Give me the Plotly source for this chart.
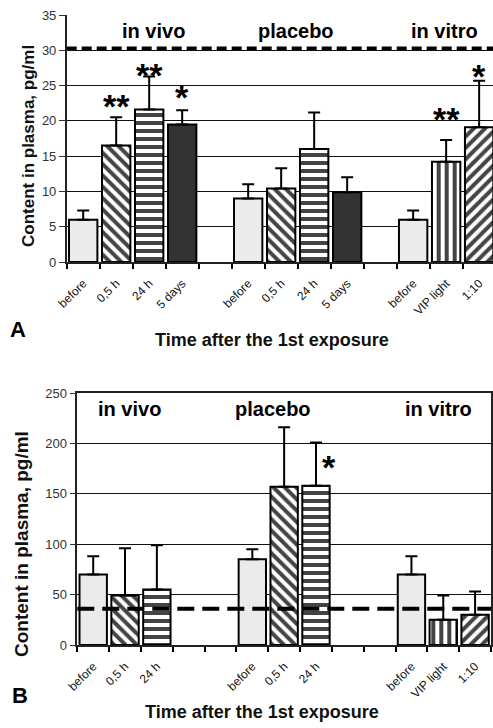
import plotly.graph_objects as go

W, H = 493, 728
FONT = "Liberation Sans, Arial, sans-serif"

# ---------------- data ----------------
labels_A = ["before", "0,5 h", "24 h", "5 days", "",
            "before", "0,5 h", "24 h", "5 days", "",
            "before", "VIP light", "1:10"]
values_A = [6.0, 16.5, 21.6, 19.5, None,
            9.0, 10.4, 16.0, 9.9, None,
            6.0, 14.2, 19.1]
errors_A = [1.3, 4.0, 4.7, 2.0, None,
            2.0, 2.9, 5.2, 2.1, None,
            1.3, 3.1, 6.6]
kinds_A = ["before", "h05", "h24", "d5", None,
           "before", "h05", "h24", "d5", None,
           "before", "vip", "r110"]
norm_A = 30.3
stars_A = [(1, "**", 23.4), (2, "**", 27.8), (3, "*", 24.6),
           (11, "**", 21.5), (12, "*", 27.6)]

labels_B = ["before", "0,5 h", "24 h", "", "",
            "before", "0,5 h", "24 h", "", "",
            "before", "VIP light", "1:10"]
values_B = [70, 49, 55, None, None,
            85, 157, 158, None, None,
            70, 25, 30]
errors_B = [18, 47, 44, None, None,
            10, 59, 43, None, None,
            18, 24, 23]
kinds_B = ["before", "h05", "h24", None, None,
           "before", "h05", "h24", None, None,
           "before", "vip", "r110"]
norm_B = 36
stars_B = [(7, "*", 186)]

groups = ["in vivo", "placebo", "in vitro"]

# ---------------- styles ----------------
STYLE = {
    "before": dict(color="#ebebeb", shape=""),
    "h05": dict(color="white", shape="\\"),
    "h24": dict(color="white", shape="-"),
    "d5": dict(color="#333333", shape=""),
    "vip": dict(color="white", shape="|"),
    "r110": dict(color="white", shape="/"),
    None: dict(color="white", shape=""),
}


def px_x(p):
    return p / W


def px_y(p):
    return 1 - p / H


fig = go.Figure()


def add_panel(labels, values, errors, kinds, xa, ya, size):
    keys = [f"{xa}{i}" for i in range(len(labels))]
    fig.add_trace(go.Bar(
        x=keys, y=values,
        xaxis=xa, yaxis=ya,
        width=0.86,
        marker=dict(
            color=[STYLE[k]["color"] for k in kinds],
            line=dict(color="black", width=2),
            pattern=dict(shape=[STYLE[k]["shape"] for k in kinds],
                         fgcolor="black", bgcolor="white", fgopacity=1,
                         size=size, solidity=0.5),
        ),
        error_y=dict(type="data", symmetric=False,
                     array=errors, arrayminus=[0] * len(errors),
                     color="black", thickness=2, width=6),
        showlegend=False,
    ))
    return keys


keys_A = add_panel(labels_A, values_A, errors_A, kinds_A, "x", "y", 8)
keys_B = add_panel(labels_B, values_B, errors_B, kinds_B, "x2", "y2", 8)

xcommon = dict(type="category", tickson="boundaries", ticks="outside",
               ticklen=5, tickcolor="black", tickwidth=1.5,
               showline=True, linecolor="#222", linewidth=1.5,
               tickangle=-45, tickfont=dict(family=FONT, size=12, color="#111"),
               ticklabelstandoff=8,
               showgrid=False, zeroline=False, tickmode="array",
               automargin=False)
ycommon = dict(showgrid=True, gridcolor="#111", gridwidth=1,
               showline=True, linecolor="#222", linewidth=1.5, mirror=True,
               ticks="outside", ticklen=6, tickcolor="#333",
               tickfont=dict(family=FONT, size=13, color="#333"),
               zeroline=False, automargin=False)

fig.update_layout(
    width=W, height=H,
    margin=dict(l=0, r=0, t=0, b=0, autoexpand=False),
    paper_bgcolor="white", plot_bgcolor="white",
    bargap=0.14,
    xaxis=dict(xcommon, domain=[px_x(66.7), 1.0], anchor="y",
               tickvals=keys_A, ticktext=labels_A,
               range=[-0.5, 12.42], mirror=False),
    yaxis=dict(ycommon, domain=[px_y(262), px_y(15)], anchor="x",
               range=[0, 35], dtick=5),
    xaxis2=dict(xcommon, domain=[px_x(77.3), px_x(491)], anchor="y2",
                tickvals=keys_B, ticktext=labels_B,
                range=[-0.5, 12.5], mirror=True),
    yaxis2=dict(ycommon, domain=[px_y(645), px_y(393)], anchor="x2",
                range=[0, 250], dtick=50),
)

# normal-level dashed lines
fig.add_shape(type="line", xref="x domain", yref="y", x0=0, x1=1,
              y0=norm_A, y1=norm_A,
              line=dict(color="black", width=3.5, dash="10px,5px"))
fig.add_shape(type="line", xref="x2 domain", yref="y2", x0=0, x1=1,
              y0=norm_B, y1=norm_B,
              line=dict(color="black", width=4, dash="17px,8px"))

ann = []
C = dict(xanchor="center", yanchor="middle", showarrow=False)
# significance stars
for idx, txt, yv in stars_A:
    ann.append(dict(C, x=keys_A[idx], y=yv, xref="x", yref="y", text=f"<b>{txt}</b>",
                    yshift=-9, font=dict(family=FONT, size=34, color="black")))
for idx, txt, yv in stars_B:
    ann.append(dict(C, x=keys_B[idx], y=yv, xref="x2", yref="y2", text=f"<b>{txt}</b>",
                    yshift=-9, xshift=13,
                    font=dict(family=FONT, size=34, color="black")))

# group labels
for g, xp in zip(groups, [153, 296, 444]):
    ann.append(dict(C, x=px_x(xp), y=px_y(31), xref="paper", yref="paper",
                    text=f"<b>{g}</b>",
                    font=dict(family=FONT, size=20, color="black")))
for g, xp in zip(groups, [129, 273, 438]):
    ann.append(dict(C, x=px_x(xp), y=px_y(409), xref="paper", yref="paper",
                    text=f"<b>{g}</b>",
                    font=dict(family=FONT, size=20, color="black")))

# axis titles
for (xc, yc, fs) in [(29, 146, 17), (21, 544, 19)]:
    ann.append(dict(C, x=px_x(xc), y=px_y(yc), xref="paper", yref="paper",
                    text="<b>Content in plasma, pg/ml</b>", textangle=-90,
                    font=dict(family=FONT, size=fs, color="#111")))
for (xc, yc) in [(272, 340), (262, 712)]:
    ann.append(dict(C, x=px_x(xc), y=px_y(yc), xref="paper", yref="paper",
                    text="<b>Time after the 1st exposure</b>",
                    font=dict(family=FONT, size=18, color="#111")))
# panel letters
ann.append(dict(C, x=px_x(18), y=px_y(330), xref="paper", yref="paper",
                text="<b>A</b>", font=dict(family=FONT, size=22, color="black")))
ann.append(dict(C, x=px_x(20), y=px_y(695), xref="paper", yref="paper",
                text="<b>B</b>", font=dict(family=FONT, size=22, color="black")))

fig.update_layout(annotations=ann)
fig.write_html("out.html", config={"displayModeBar": False},
               post_script="document.body.style.margin='0';"
                           "document.body.style.overflow='hidden';")
